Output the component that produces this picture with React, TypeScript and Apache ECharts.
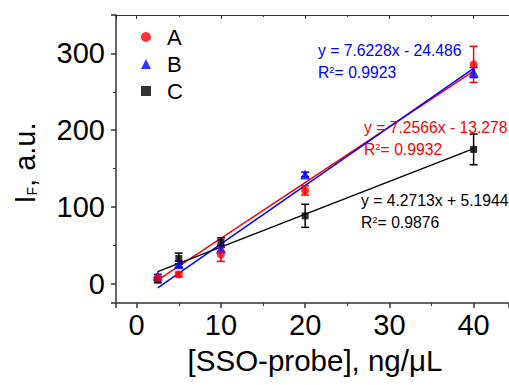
import React, { useEffect, useRef } from "react";
import * as echarts from "echarts";

const concentrations = [2.5, 5, 10, 20, 40];
const seriesA = [7.8, 12.2, 38.2, 121.6, 285.7];
const errorsA = [2, 3, 9, 6, 23.5];
const seriesB = [10.4, 25.6, 46, 142.4, 275];
const errorsB = [2, 4, 4, 3, 6.5];
const seriesC = [4.8, 33, 53.9, 88.5, 175];
const errorsC = [3, 7, 6, 15, 20];

const fitSlopes = [7.2566, 7.6228, 4.2713];
const fitIntercepts = [-13.278, -24.486, 5.1944];
const fitRange = [2.5, 40];

const FONT = 'Arial, "Liberation Sans", sans-serif';

export default function App() {
  const ref = useRef<HTMLDivElement>(null);
  useEffect(() => {
    if (!ref.current) return;
    const chart = echarts.init(ref.current, undefined, { renderer: "svg" });

    const pts = (ys: number[]) => concentrations.map((x, i) => [x, ys[i]]);
    const errs = (ys: number[], es: number[]) =>
      concentrations.map((x, i) => [x, ys[i], es[i]]);
    const fit = (k: number) =>
      fitRange.map((x) => [x, fitSlopes[k] * x + fitIntercepts[k]]);

    const errorSeries = (name: string, data: number[][], color: string) => ({
      type: "custom",
      name,
      data,
      z: 3,
      renderItem: (params: any, api: any) => {
        const x = api.value(0);
        const y = api.value(1);
        const e = api.value(2);
        const top = api.coord([x, y + e]);
        const bot = api.coord([x, y - e]);
        const w = 4;
        const style = { stroke: color, lineWidth: 1.5 };
        return {
          type: "group",
          children: [
            { type: "line", shape: { x1: top[0], y1: top[1], x2: bot[0], y2: bot[1] }, style },
            { type: "line", shape: { x1: top[0] - w, y1: top[1], x2: top[0] + w, y2: top[1] }, style },
            { type: "line", shape: { x1: bot[0] - w, y1: bot[1], x2: bot[0] + w, y2: bot[1] }, style },
          ],
        };
      },
    });

    const fitSeries = (name: string, k: number, color: string) => ({
      type: "line",
      name,
      data: fit(k),
      showSymbol: false,
      symbol: "none",
      z: 2,
      lineStyle: { color, width: 1.5 },
    });

    const axisLineStyle = { color: "#333", width: 1.5 };

    chart.setOption({
      animation: false,
      grid: { left: 116, right: 0, top: 15, bottom: 82 },
      legend: {
        orient: "vertical",
        left: 136,
        top: 21,
        itemWidth: 10,
        itemHeight: 10,
        itemGap: 5,
        data: [
          { name: "A", icon: "circle" },
          { name: "B", icon: "triangle" },
          { name: "C", icon: "rect" },
        ],
        textStyle: {
          fontSize: 22,
          lineHeight: 22,
          fontFamily: FONT,
          color: "#000",
          padding: [0, 0, 0, 11],
        },
      },
      xAxis: [
        {
          type: "value",
          min: -2.455,
          max: 44.2,
          splitNumber: 5,
          axisLine: { show: true, onZero: false, lineStyle: axisLineStyle },
          axisTick: { show: true, inside: false, length: 5, lineStyle: axisLineStyle },
          minorTick: { show: true, splitNumber: 2, length: 3, lineStyle: { color: "#333" } },
          splitLine: { show: false },
          axisLabel: {
            showMinLabel: false,
            showMaxLabel: false,
            fontSize: 29,
            fontFamily: FONT,
            color: "#000",
            margin: 7,
          },
        },
        {
          type: "value",
          position: "top",
          min: -2.455,
          max: 44.2,
          splitNumber: 5,
          axisLine: { show: true, onZero: false, lineStyle: { color: "#333", width: 1.2 } },
          axisTick: { show: true, inside: true, length: 4, lineStyle: { color: "#333" } },
          minorTick: { show: true, splitNumber: 2, length: 2, lineStyle: { color: "#333" } },
          splitLine: { show: false },
          axisLabel: { show: false },
        },
      ],
      yAxis: {
        type: "value",
        min: -25,
        max: 350,
        splitNumber: 4,
        axisLine: { show: true, onZero: false, lineStyle: axisLineStyle },
        axisTick: { show: true, inside: false, length: 5, lineStyle: axisLineStyle },
        minorTick: { show: true, splitNumber: 2, length: 3, lineStyle: { color: "#333" } },
        splitLine: { show: false },
        axisLabel: {
          showMinLabel: false,
          showMaxLabel: false,
          fontSize: 29,
          fontFamily: FONT,
          color: "#000",
          margin: 11,
        },
      },
      series: [
        fitSeries("fitA", 0, "#ff0000"),
        fitSeries("fitB", 1, "#0000ff"),
        fitSeries("fitC", 2, "#000000"),
        errorSeries("errC", errs(seriesC, errorsC), "#000000"),
        errorSeries("errB", errs(seriesB, errorsB), "#0000ff"),
        errorSeries("errA", errs(seriesA, errorsA), "#ff0000"),
        {
          type: "scatter",
          name: "C",
          data: pts(seriesC),
          symbol: "rect",
          symbolSize: 7,
          itemStyle: { color: "#000000" },
          z: 4,
        },
        {
          type: "scatter",
          name: "B",
          data: pts(seriesB),
          symbol: "triangle",
          symbolSize: 10,
          itemStyle: { color: "#0000ff" },
          z: 4,
        },
        {
          type: "scatter",
          name: "A",
          data: pts(seriesA),
          symbol: "circle",
          symbolSize: 8,
          itemStyle: { color: "#ff0000" },
          z: 5,
        },
      ],
      graphic: [
        ...[
          { x: 318, y: 39, color: "#0000ff", eq: "y = 7.6228x - 24.486", r2: "= 0.9923" },
          { x: 364, y: 116, color: "#ff0000", eq: "y = 7.2566x - 13.278", r2: "= 0.9932" },
          { x: 361, y: 189, color: "#000000", eq: "y = 4.2713x + 5.1944", r2: "= 0.9876" },
        ].map((a) => ({
          type: "text",
          x: a.x,
          y: a.y,
          z: 10,
          style: {
            text: "{n|" + a.eq + "}\n{n|R}{sup|2}{n|" + a.r2 + "}",
            fill: a.color,
            font: "15.7px " + FONT,
            textVerticalAlign: "top",
            rich: {
              n: { fontSize: 15.7, lineHeight: 22, fontFamily: FONT, fill: a.color },
              sup: {
                fontSize: 9.5,
                lineHeight: 22,
                fontFamily: FONT,
                fill: a.color,
                verticalAlign: "top",
                padding: [3, 0, 0, 0],
              },
            },
          },
        })),
        {
          type: "text",
          x: 24,
          y: 163,
          rotation: Math.PI / 2,
          style: {
            text: "{m|I}{s|F}{m|, a.u.}",
            fill: "#000",
            textAlign: "center",
            textVerticalAlign: "middle",
            rich: {
              m: { fontSize: 29, lineHeight: 30, fontFamily: FONT, fill: "#000", verticalAlign: "bottom" },
              s: { fontSize: 14, lineHeight: 30, fontFamily: FONT, fill: "#000", verticalAlign: "bottom" },
            },
          },
        },
        {
          type: "text",
          x: 315,
          y: 360,
          style: {
            text: "[SSO-probe], ng/μL",
            fill: "#000",
            font: "29.5px " + FONT,
            textAlign: "center",
            textVerticalAlign: "middle",
          },
        },
      ],
    });
    return () => chart.dispose();
  }, []);
  return (
    <div
      ref={ref}
      style={{ position: "fixed", left: 0, top: 0, width: 509, height: 385, background: "#fff" }}
    />
  );
}
